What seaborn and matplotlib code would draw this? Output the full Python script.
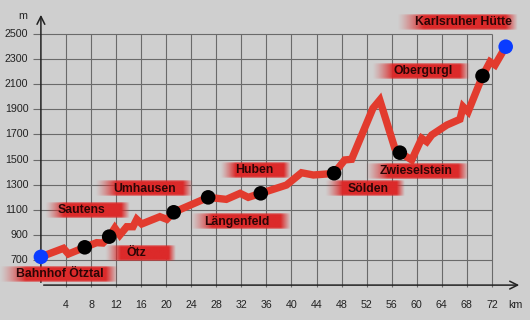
import numpy as np
import matplotlib
matplotlib.use('Agg')
from matplotlib import pyplot as plt
import seaborn as sns
import pandas as pd

# elevation profile Ötztal station -> Karlsruher Hütte
km = [0, 3.6, 4.4, 7.0, 8.9, 9.9, 10.9, 11.8, 12.6, 13.7, 14.7, 15.3, 16.1, 19.0, 20.1,
      21.2, 26.7, 29.6, 31.8, 33.1, 35.1, 39.2, 41.6, 43.5, 45.6, 46.8, 48.5, 49.6,
      53.0, 54.1, 56.5, 57.3, 59.2, 60.8, 61.6, 62.4, 64.8, 66.9, 67.4, 68.2, 70.5,
      71.7, 72.5, 74.2]
elev = [725, 793, 748, 801, 838, 835, 886, 955, 899, 965, 965, 1024, 987, 1045, 1024,
        1080, 1199, 1183, 1231, 1199, 1231, 1297, 1395, 1377, 1385, 1391, 1497, 1502,
        1908, 1974, 1590, 1555, 1497, 1669, 1642, 1696, 1775, 1821, 1921, 1881, 2166,
        2279, 2253, 2399]

stops = ['Bahnhof Ötztal', 'Sautens', 'Ötz', 'Umhausen', 'Längenfeld', 'Huben',
         'Sölden', 'Zwieselstein', 'Obergurgl', 'Karlsruher Hütte']
stops_km = [0, 7.0, 10.9, 21.2, 26.7, 35.1, 46.8, 57.3, 70.5, 74.2]
stops_m = [725, 801, 886, 1080, 1199, 1231, 1391, 1555, 2166, 2399]

xticks = list(range(4, 73, 4))
yticks = list(range(700, 2501, 200))

# label layout: text centre (km, m), box left/right (km)
label_pos = [(3.05, 588, -6.6, 12.3), (6.56, 1098, 0.65, 14.2), (15.3, 752, 10.2, 21.4),
             (16.6, 1266, 8.6, 24.1), (31.3, 1003, 23.8, 39.8), (34.0, 1417, 28.6, 39.8),
             (52.2, 1269, 45.4, 58.1), (59.9, 1405, 51.7, 68.2), (61.0, 2205, 52.9, 68.5),
             (67.4, 2592, 56.9, 76.2)]

df = pd.DataFrame({'km': km, 'm': elev})
dots = pd.DataFrame({'km': stops_km, 'm': stops_m, 'end': [1] + [0] * 8 + [1]})

sns.set_style('white')
plt.rcParams['font.family'] = ['Liberation Sans', 'DejaVu Sans']
bg = '#cfcfcf'
fig = plt.figure(figsize=(5.3, 3.2), dpi=100, facecolor=bg)
ax = fig.add_axes([0, 0, 1, 1])
ax.set_facecolor(bg)
ax.axis('off')

# grid
gc = '#6a6a6a'
ax.vlines(xticks, 485, 2500, color=gc, lw=0.8, zorder=1)
ax.hlines(yticks, -1.3, 72, color=gc, lw=0.8, zorder=1)

# axes with arrows
ax.annotate('', xy=(76.8, 500), xytext=(0, 500),
            arrowprops=dict(arrowstyle='->', color='#222222', lw=1.1, mutation_scale=14), zorder=2)
ax.annotate('', xy=(0, 2675), xytext=(0, 500),
            arrowprops=dict(arrowstyle='->', color='#222222', lw=1.1, mutation_scale=14), zorder=2)

for t in xticks:
    ax.text(t, 342, str(t), ha='center', va='center', fontsize=7.7, color='#222222')
for t in yticks:
    ax.text(-2.0, t, str(t), ha='right', va='center', fontsize=7.7, color='#222222')
ax.text(75.7, 342, 'km', ha='center', va='center', fontsize=7.7, color='#222222')
ax.text(-2.9, 2645, 'm', ha='center', va='center', fontsize=7.7, color='#222222')

# gradient label boxes
n = 200
xs = np.linspace(0, 1, n)
ax_prof = np.clip(xs / 0.22, 0, 1) ** 1.3 * np.clip((1 - xs) / 0.1, 0, 1)
ys = np.linspace(-1, 1, 16)
ay_prof = np.clip((1 - np.abs(ys)) * 5.0, 0, 1)
img = np.zeros((16, n, 4))
img[..., 0] = 220 / 255
img[..., 1] = 42 / 255
img[..., 2] = 42 / 255
img[..., 3] = np.outer(ay_prof, ax_prof)
for name, (tx, ty, bl, br) in zip(stops, label_pos):
    ax.imshow(img, extent=[bl, br, ty - 68, ty + 68], aspect='auto',
              interpolation='bilinear', zorder=3)
    ax.text(tx, ty, name, ha='center', va='center', fontsize=8.8,
            fontweight='bold', color='#2b0606', zorder=6)

sns.lineplot(data=df, x='km', y='m', sort=False, estimator=None, color='#e23b2e',
             lw=5.3, ax=ax, zorder=4)
ax.lines[-1].set_solid_joinstyle('miter')
sns.scatterplot(data=dots, x='km', y='m', hue='end', palette={0: '#000000', 1: '#0a3cff'},
                s=110, linewidth=0, legend=False, ax=ax, zorder=5)

ax.set_xlim(-6.53, 78.08)
ax.set_ylim(222, 2771)
fig.savefig('out.png', dpi=100, facecolor=bg)
